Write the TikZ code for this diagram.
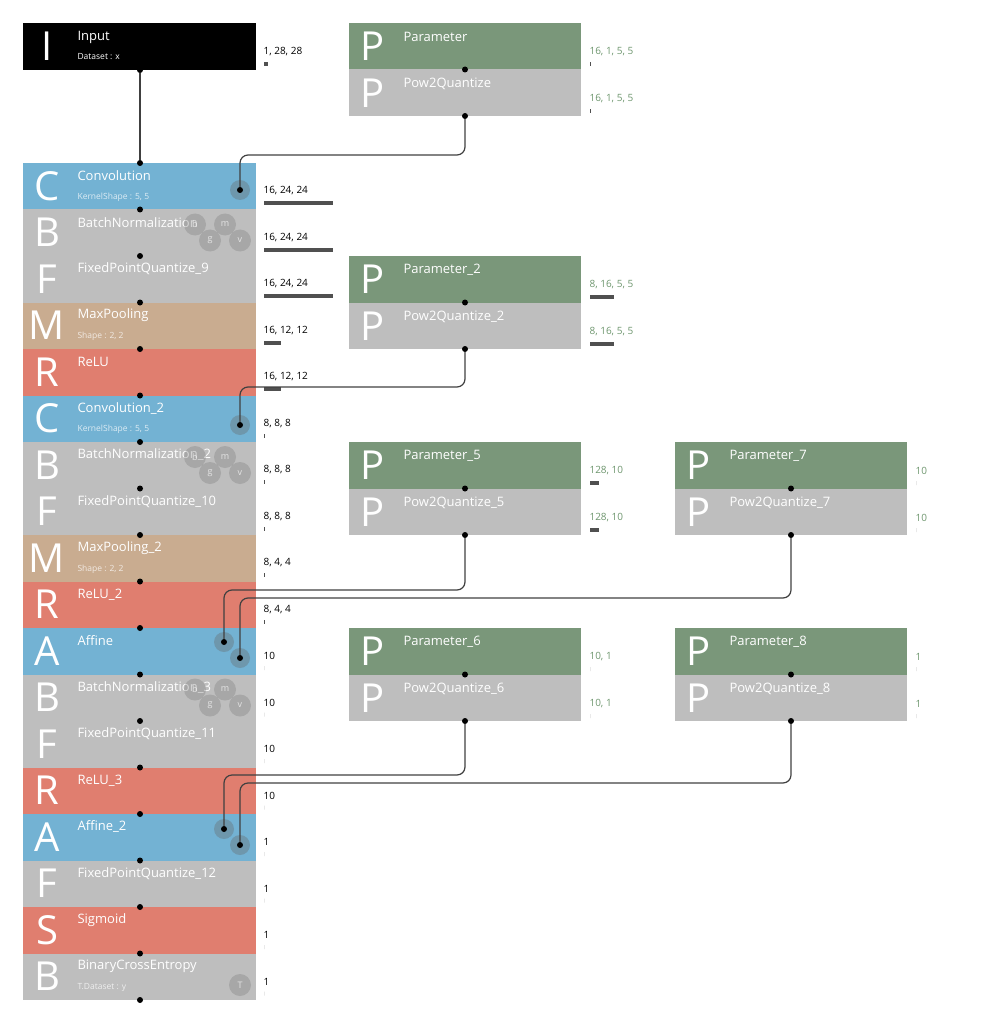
\documentclass[tikz,border=0pt]{standalone}
\usepackage{fontspec}
\setmainfont{Open Sans}
\definecolor{cblue}{RGB}{115,178,211}
\definecolor{cgray}{RGB}{190,190,190}
\definecolor{cbrown}{RGB}{201,172,144}
\definecolor{cred}{RGB}{224,126,111}
\definecolor{cgreen}{RGB}{122,151,122}
\definecolor{cbar}{RGB}{80,80,80}
\definecolor{cshape}{RGB}{110,150,110}
\begin{document}
\begin{tikzpicture}[x=1pt,y=-1pt,
  letter/.style={text=white,font=\fontsize{40}{40}\selectfont},
  lname/.style={text=white,anchor=west,font=\fontsize{13}{13}\selectfont},
  lsub/.style={text=white,anchor=west,font=\fontsize{8.5}{8.5}\selectfont,text opacity=0.75},
  shp/.style={anchor=west,font=\fontsize{10}{10}\selectfont},
  pshp/.style={shp,text=cshape},
  dot/.style={circle,fill=black,inner sep=0pt,minimum size=6pt},
  port/.style={circle,fill=black!60,opacity=0.35,minimum size=20pt,inner sep=0pt},
  pin/.style={circle,fill=black!55,opacity=0.3,minimum size=22pt,inner sep=0pt,text=white,text opacity=0.7,font=\fontsize{9}{9}\selectfont},
  link/.style={draw=black!75,line width=1.2pt,rounded corners=8pt}]
\useasboundingbox (0,0) rectangle (1001,1024);
% input
\fill[black] (23,23) rectangle (256,70);
\node[letter] at (47,46) {I};
\node[lname] at (74,37) {Input};
\node[lsub,text opacity=1] at (74,57) {Dataset : x};
\node[shp] at (260,52) {1, 28, 28};
\fill[cbar] (264,62) rectangle (268,66);
% main column
\foreach \i/\L/\nm/\sb/\col in {0/C/Convolution/{KernelShape : 5, 5}/cblue,
  1/B/BatchNormalization/{}/cgray, 2/F/FixedPointQuantize\_9/{}/cgray,
  3/M/MaxPooling/{Shape : 2, 2}/cbrown, 4/R/ReLU/{}/cred,
  5/C/Convolution\_2/{KernelShape : 5, 5}/cblue, 6/B/BatchNormalization\_2/{}/cgray,
  7/F/FixedPointQuantize\_10/{}/cgray, 8/M/MaxPooling\_2/{Shape : 2, 2}/cbrown,
  9/R/ReLU\_2/{}/cred, 10/A/Affine/{}/cblue, 11/B/BatchNormalization\_3/{}/cgray,
  12/F/FixedPointQuantize\_11/{}/cgray, 13/R/ReLU\_3/{}/cred, 14/A/Affine\_2/{}/cblue,
  15/F/FixedPointQuantize\_12/{}/cgray, 16/S/Sigmoid/{}/cred,
  17/B/BinaryCrossEntropy/{T.Dataset : y}/cgray}{
  \pgfmathsetmacro{\ty}{163+46.5*\i}
  \fill[\col] (23,\ty) rectangle (256,\ty+46.5);
  \node[letter] at (47,\ty+23) {\L};
  \node[lname] at (74,\ty+13) {\nm};
  \node[lsub] at (74,\ty+34) {\sb};
}
\foreach \i in {0,...,18}{
  \pgfmathsetmacro{\ty}{163+46.5*\i}
  \node[dot] (d\i) at (140,\ty) {};
}
\node[dot] (din) at (140,70) {};
\draw[link] (din) -- (d0);
% batch norm pins
\foreach \i in {1,6,11}{
  \pgfmathsetmacro{\ty}{163+46.5*\i}
  \node[pin] at (195,\ty+15) {b};
  \node[pin] at (225,\ty+15) {m};
  \node[pin] at (210,\ty+31) {g};
  \node[pin] at (240,\ty+31) {v};
}
\node[pin] at (240,985) {T};
% shapes
\foreach \i/\s/\w in {0/{16, 24, 24}/69, 1/{16, 24, 24}/69, 2/{16, 24, 24}/69,
  3/{16, 12, 12}/17, 4/{16, 12, 12}/17, 5/{8, 8, 8}/1, 6/{8, 8, 8}/1, 7/{8, 8, 8}/1,
  8/{8, 4, 4}/1, 9/{8, 4, 4}/1, 10/10/0, 11/10/0, 12/10/0, 13/10/0, 14/1/0,
  15/1/0, 16/1/0, 17/1/0}{
  \pgfmathsetmacro{\ty}{163+46.5*\i}
  \node[shp] at (260,\ty+28) {\s};
  \fill[cbar] (264,\ty+38) rectangle (264+\w,\ty+42);
}
% parameters
\foreach \nm/\x/\y/\pa/\pb/\s/\w in {pa/349/23/Parameter/Pow2Quantize/{16, 1, 5, 5}/1,
  pb/349/256/Parameter\_2/Pow2Quantize\_2/{8, 16, 5, 5}/24,
  pc/349/442/Parameter\_5/Pow2Quantize\_5/{128, 10}/9,
  pd/675/442/Parameter\_7/Pow2Quantize\_7/10/0,
  pe/349/628/Parameter\_6/Pow2Quantize\_6/{10, 1}/0,
  pf/675/628/Parameter\_8/Pow2Quantize\_8/1/0}{
  \fill[cgreen] (\x,\y) rectangle (\x+232,\y+46.5);
  \fill[cgray] (\x,\y+46.5) rectangle (\x+232,\y+93);
  \node[letter] at (\x+24,\y+23) {P};
  \node[letter] at (\x+24,\y+70) {P};
  \node[lname] at (\x+51,\y+14) {\pa};
  \node[lname] at (\x+51,\y+61) {\pb};
  \node[pshp] at (\x+237,\y+29) {\s};
  \node[pshp] at (\x+237,\y+76) {\s};
  \fill[cbar] (\x+241,\y+39) rectangle (\x+241+\w,\y+43);
  \fill[cbar] (\x+241,\y+86) rectangle (\x+241+\w,\y+90);
  \node[dot] at (\x+116,\y+46.5) {};
  \node[dot] (\nm) at (\x+116,\y+93) {};
}
% weight ports
\node[port] at (240,190) {}; \node[dot] (wa) at (240,190) {};
\node[port] at (240,425) {}; \node[dot] (wb) at (240,425) {};
\node[port] at (224,642) {}; \node[dot] (wc) at (224,642) {};
\node[port] at (240,658) {}; \node[dot] (wd) at (240,658) {};
\node[port] at (224,829) {}; \node[dot] (we) at (224,829) {};
\node[port] at (240,845) {}; \node[dot] (wf) at (240,845) {};
\draw[link] (pa) |- (300,155) -| (wa);
\draw[link] (pb) |- (300,387) -| (wb);
\draw[link] (pc) |- (300,590) -| (wc);
\draw[link] (pd) |- (300,598) -| (wd);
\draw[link] (pe) |- (300,775) -| (we);
\draw[link] (pf) |- (300,783) -| (wf);
\end{tikzpicture}
\end{document}
